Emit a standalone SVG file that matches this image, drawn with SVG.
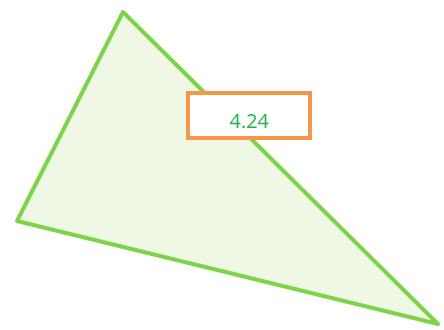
<svg xmlns="http://www.w3.org/2000/svg" width="444" height="330" viewBox="0 0 444 330">
<style>
.tri{fill:#eef8e4;stroke:#7fd34a;stroke-width:4;stroke-linejoin:round}
.lbl{fill:#ffffff;stroke:#f7964a;stroke-width:4}
.txt{font-family:"Open Sans","Liberation Sans",sans-serif;font-size:20px;fill:#1db356;text-anchor:middle}
</style>
<g id="triangle">
<polygon class="tri" points="123,12 17,221 438,324"/>
</g>
<g id="connectors"></g>
<g id="label">
<rect class="lbl" x="188" y="93" width="122" height="45"/>
<text class="txt" x="249" y="128">4.24</text>
</g>
</svg>
